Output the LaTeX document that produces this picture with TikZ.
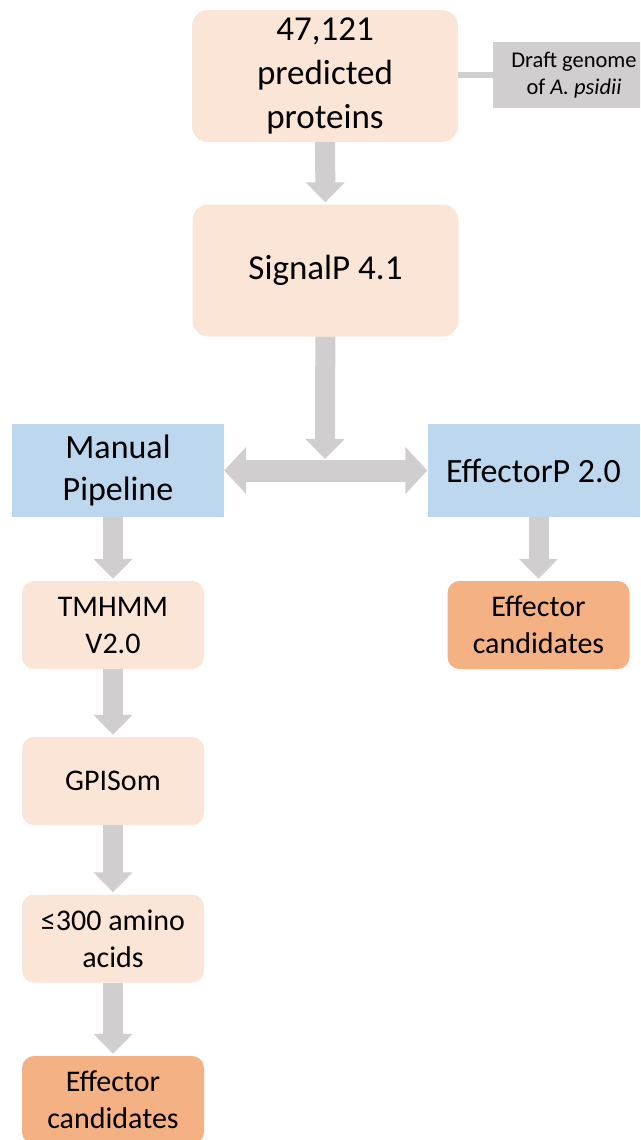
\documentclass[tikz,border=0pt]{standalone}
\usepackage{fontspec}
\setmainfont{Carlito}
\usetikzlibrary{arrows.meta}
\definecolor{peach}{RGB}{251,229,214}
\definecolor{skyblue}{RGB}{189,215,238}
\definecolor{salmon}{RGB}{244,177,131}
\definecolor{arrowgray}{RGB}{208,206,206}
\tikzset{
  stage/.style={rectangle, rounded corners=12pt, fill=peach, align=center, inner sep=0pt,
    minimum width=182pt, minimum height=88pt, font=\fontsize{30}{37}\selectfont},
  bigstage/.style={stage, rounded corners=16pt, minimum width=266pt, minimum height=132pt,
    font=\fontsize{35}{44}\selectfont},
  tool/.style={rectangle, fill=skyblue, align=center, inner sep=0pt, minimum width=212pt,
    minimum height=93pt, font=\fontsize{34}{42}\selectfont},
  result/.style={stage, fill=salmon},
  source/.style={rectangle, fill=arrowgray, align=center, inner sep=0pt, minimum width=162pt,
    minimum height=66pt, font=\fontsize{22.5}{27}\selectfont},
  flow/.style={draw=arrowgray, line width=20pt, shorten >=2pt, -{Triangle[width=38pt,length=20pt]}},
  dflow/.style={draw=arrowgray, line width=22pt,
    {Triangle[width=46pt,length=22pt]}-{Triangle[width=46pt,length=22pt]}}
}
\begin{document}
\begin{tikzpicture}[x=1pt,y=-1pt]
    \useasboundingbox (0,0) rectangle (640,1140);
    \clip (0,0) rectangle (640,1140);
    % top of the pipeline
    \node[bigstage] (prot) at (325,76) {47,121\\predicted\\proteins};
    \node[source] (draft) at (574,75) {Draft genome\\of \textit{A. psidii}};
    \node[bigstage] (signalp) at (325.5,270.5) {SignalP 4.1};
    \coordinate (junc) at (325,459);
    % two branches
    \node[tool] (manual) at (118,470.5) {Manual\\Pipeline};
    \node[tool] (effp) at (533.5,470.5) {EffectorP 2.0};
    \node[result] (effcr) at (538.5,625) {Effector\\candidates};
    \node[stage] (tmhmm) at (113,625) {TMHMM\\V2.0};
    \node[stage] (gpisom) at (113,781) {GPISom};
    \node[stage] (aa) at (113,938.5) {≤300 amino\\acids};
    \node[result] (effcl) at (113,1100) {Effector\\candidates};
    % connectors
    \draw[arrowgray, line width=5pt] (prot.east |- draft.west) -- (draft.west);
    \draw[flow] (prot) -- (signalp);
    \draw[flow, shorten >=0pt] (signalp) -- (junc);
    \draw[dflow] (manual.east) -- (effp.west);
    \draw[flow] (manual.south -| tmhmm.north) -- (tmhmm.north);
    \draw[flow] (tmhmm) -- (gpisom);
    \draw[flow] (gpisom) -- (aa);
    \draw[flow] (aa) -- (effcl);
    \draw[flow] (effp.south -| effcr.north) -- (effcr.north);
\end{tikzpicture}
\end{document}
